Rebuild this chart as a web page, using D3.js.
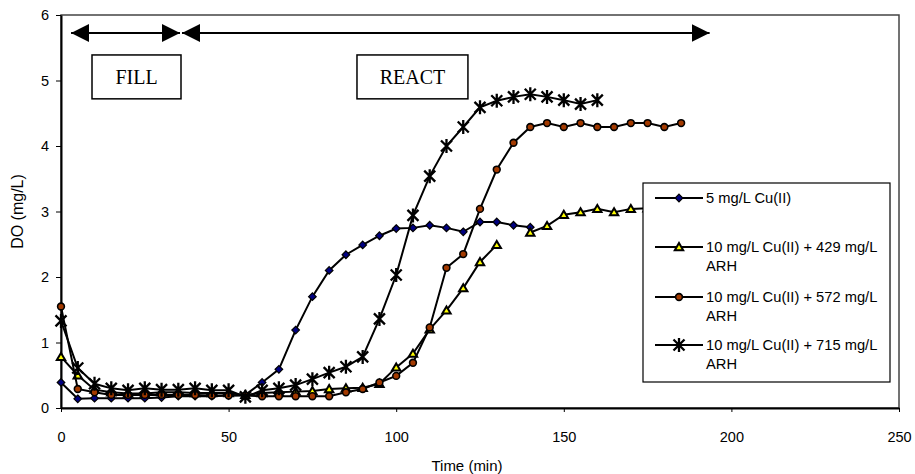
<!DOCTYPE html>
<html>
<head>
<meta charset="utf-8">
<script src="https://cdn.jsdelivr.net/npm/d3@7"></script>
<style>
  body { margin: 0; background: #fff; }
  text { font-family: "Liberation Sans", Arial, sans-serif; }
</style>
</head>
<body>
<div id="chart"></div>
<script>
"use strict"
// values, t in minutes, DO in mg/L
var time = [0,5,10,15,20,25,30,35,40,45,50,55,60,65,70,75,80,85,90,95,100,105,110,115,120,125,130,135,140,145,150,155,160,165,170,175,180,185];

var cu5 = [0.39,0.14,0.15,0.15,0.15,0.15,0.16,0.18,0.18,0.18,0.19,0.2,0.39,0.59,1.19,1.70,2.10,2.34,2.49,2.63,2.74,2.75,2.79,2.75,2.69,2.84,2.84,2.79,2.76];
var arh429 = [0.78,0.5,0.28,0.24,0.22,0.22,0.24,0.24,0.23,0.23,0.23,0.2,0.23,0.24,0.25,0.26,0.29,0.3,0.31,0.37,0.62,0.83,1.2,1.49,1.83,2.23,2.49,null,2.68,2.78,2.95,2.99,3.04,2.99,3.04,3.05];
var arh572 = [1.55,0.29,0.24,0.2,0.2,0.2,0.2,0.2,0.2,0.19,0.19,0.19,0.18,0.18,0.18,0.18,0.18,0.24,0.29,0.39,0.49,0.69,1.23,2.14,2.35,3.04,3.64,4.05,4.29,4.35,4.29,4.35,4.29,4.29,4.35,4.35,4.29,4.35];
var arh715 = [1.33,0.61,0.37,0.3,0.27,0.3,0.28,0.28,0.3,0.27,0.27,0.17,0.27,0.3,0.35,0.44,0.54,0.63,0.78,1.36,2.03,2.94,3.54,4.0,4.29,4.59,4.69,4.75,4.79,4.75,4.70,4.64,4.70];

var seriesNames = ["5 mg/L Cu(II)", "10 mg/L Cu(II) + 429 mg/L|ARH", "10 mg/L Cu(II) + 572 mg/L|ARH", "10 mg/L Cu(II) + 715 mg/L|ARH"];
var xTicks = [0,50,100,150,200,250];
var yTicks = [0,1,2,3,4,5,6];

// process phases (minutes)
var phaseNames = ["FILL", "REACT"];
var phaseStart = [3, 35.5];
var phaseEnd = [35.5, 193.5];

var width = 915,
	height = 474;
var margin = {top:15, right:16, bottom:66, left:61};

var svg = d3.select("#chart").append("svg")
	.attr("width",width)
	.attr("height",height);

var x = d3.scaleLinear().domain([0,250]).range([margin.left,width-margin.right]);
var y = d3.scaleLinear().domain([0,6]).range([height-margin.bottom,margin.top]);

// plot frame
svg.append("rect")
	.attr("x",x(0)).attr("y",y(6))
	.attr("width",x(250)-x(0)).attr("height",y(0)-y(6))
	.style("fill","none").style("stroke","#444").style("stroke-width",1.5);

var xAxis = svg.append("g")
	.attr("transform","translate(0,"+y(0)+")")
	.call(d3.axisBottom(x).tickValues(xTicks).tickFormat(d3.format("d")).tickSizeOuter(0).tickSizeInner(4).tickPadding(20));
var yAxis = svg.append("g")
	.attr("transform","translate("+x(0)+",0)")
	.call(d3.axisLeft(y).tickValues(yTicks).tickFormat(d3.format("d")).tickSizeOuter(0).tickSizeInner(5).tickPadding(7));
[xAxis,yAxis].forEach(function(a){
	a.select(".domain").style("stroke","#000").style("stroke-width",2);
	a.selectAll(".tick line").style("stroke","#000");
	a.selectAll(".tick text").style("font-family","Liberation Sans").style("font-size","14.5px").style("fill","#000");
});

svg.append("text")
	.attr("x",467).attr("y",471)
	.attr("text-anchor","middle")
	.style("font-size","15px")
	.text("Time (min)");
svg.append("text")
	.attr("transform","translate(23,"+((y(0)+y(6))/2)+") rotate(-90)")
	.attr("text-anchor","middle")
	.style("font-size","16px")
	.text("DO (mg/L)");

// phase arrows and boxes
var defs = svg.append("defs");
defs.append("marker").attr("id","ahead")
	.attr("viewBox","0 0 18 18").attr("refX",18).attr("refY",9)
	.attr("markerWidth",18).attr("markerHeight",18)
	.attr("markerUnits","userSpaceOnUse").attr("orient","auto-start-reverse")
	.append("path").attr("d","M0,0 L18,9 L0,18 Z").style("fill","#000");

var arrowY = y(5.725);
phaseNames.forEach(function(name,i){
	svg.append("line")
		.attr("x1",x(phaseStart[i])+(i===1?2:0)).attr("x2",x(phaseEnd[i]))
		.attr("y1",arrowY).attr("y2",arrowY)
		.style("stroke","#000").style("stroke-width",2)
		.attr("marker-start","url(#ahead)").attr("marker-end","url(#ahead)");
});
var boxLeft = [9.25, 88.3], boxRight = [35.8, 121.4];
phaseNames.forEach(function(name,i){
	var bx = x(boxLeft[i]), bw = x(boxRight[i])-x(boxLeft[i]);
	svg.append("rect")
		.attr("x",bx).attr("y",y(5.39)).attr("width",bw).attr("height",y(4.72)-y(5.39))
		.style("fill","#fff").style("stroke","#000").style("stroke-width",1.5);
	svg.append("text")
		.attr("x",bx+bw/2).attr("y",(y(5.39)+y(4.72))/2).attr("dy","0.35em")
		.attr("text-anchor","middle")
		.style("font-family","Liberation Serif").style("font-size","20px")
		.text(name);
});

// markers
var symDiamond = function(g){ g.append("path").attr("d","M0,-3.8 L3.8,0 L0,3.8 L-3.8,0 Z").style("fill","#000080").style("stroke","#000").style("stroke-width",1.2); };
var symTriangle = function(g){ g.append("path").attr("d","M0,-4 L4.2,3.2 L-4.2,3.2 Z").style("fill","#ffff00").style("stroke","#000").style("stroke-width",2); };
var symCircle = function(g){ g.append("circle").attr("r",3.4).style("fill","#a33a00").style("stroke","#000").style("stroke-width",1.6); };
var symStar = function(g){ g.append("path").attr("d","M-5.5,-5.5 L5.5,5.5 M-5.5,5.5 L5.5,-5.5 M0,-7 L0,7").style("fill","none").style("stroke","#000").style("stroke-width",2.3); };
var symbols = [symDiamond, symTriangle, symCircle, symStar];
var allSeries = [cu5, arh429, arh572, arh715];

var line = d3.line()
	.defined(function(d){ return d.v !== null; })
	.x(function(d){ return x(d.t); })
	.y(function(d){ return y(d.v); });

allSeries.forEach(function(vals,i){
	var pts = vals.map(function(v,j){ return {t:time[j], v:v}; });
	svg.append("path").datum(pts)
		.attr("d",line)
		.style("fill","none").style("stroke","#000").style("stroke-width",2);
	pts.filter(function(d){ return d.v !== null; }).forEach(function(d){
		var g = svg.append("g").attr("transform","translate("+x(d.t)+","+y(d.v)+")");
		symbols[i](g);
	});
});

// legend
var lg = svg.append("g");
lg.append("rect").attr("x",643).attr("y",183).attr("width",247).attr("height",199)
	.style("fill","#fff").style("stroke","#000").style("stroke-width",1.2);
var rowY = [198, 247, 297, 345];
seriesNames.forEach(function(name,i){
	lg.append("line").attr("x1",655).attr("x2",703).attr("y1",rowY[i]).attr("y2",rowY[i])
		.style("stroke","#000").style("stroke-width",2);
	symbols[i](lg.append("g").attr("transform","translate(679,"+rowY[i]+")"));
	var parts = name.split("|");
	var t = lg.append("text").attr("x",706).attr("y",rowY[i])
		.style("font-size","14.7px");
	parts.forEach(function(p,k){
		t.append("tspan").attr("x",706).attr("dy",k===0?"0.35em":"19px").text(p);
	});
});
</script>
</body>
</html>
